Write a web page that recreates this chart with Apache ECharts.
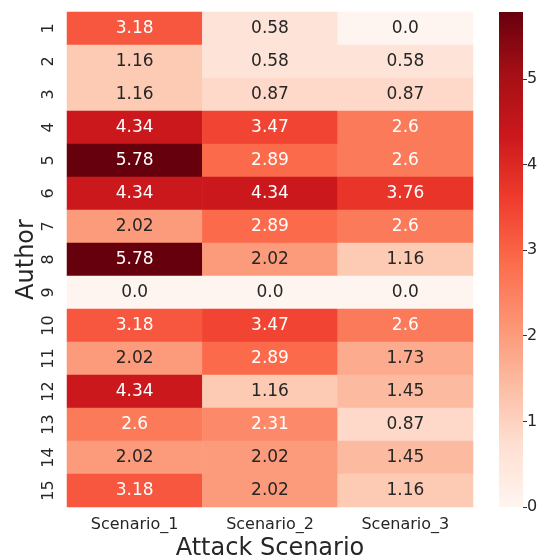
<!DOCTYPE html>
<html>
<head>
<meta charset="utf-8">
<script src="https://cdn.jsdelivr.net/npm/echarts@6/dist/echarts.min.js"></script>
<style>html,body{margin:0;padding:0;background:#fff}#c{width:544px;height:560px}</style>
</head>
<body>
<div id="c"></div>
<script>
const scenarios = ['Scenario_1', 'Scenario_2', 'Scenario_3'];
const authors = ['1','2','3','4','5','6','7','8','9','10','11','12','13','14','15'];
const scenario1 = [3.18, 1.16, 1.16, 4.34, 5.78, 4.34, 2.02, 5.78, 0.0, 3.18, 2.02, 4.34, 2.6, 2.02, 3.18];
const scenario2 = [0.58, 0.58, 0.87, 3.47, 2.89, 4.34, 2.89, 2.02, 0.0, 3.47, 2.89, 1.16, 2.31, 2.02, 2.02];
const scenario3 = [0.0, 0.58, 0.87, 2.6, 2.6, 3.76, 2.6, 1.16, 0.0, 2.6, 1.73, 1.45, 0.87, 1.45, 1.16];
const colorbarTicks = [0, 1, 2, 3, 4, 5];
const reds = ['#fff5f0','#fee0d2','#fcbba1','#fc9272','#fb6a4a','#ef3b2c','#cb181d','#a50f15','#67000d'];

const cols = [scenario1, scenario2, scenario3];
const vmax = Math.max(...cols.flat());
const font = 'DejaVu Sans';
const data = [];
cols.forEach((col, xi) => col.forEach((v, yi) => {
  data.push({ value: [xi, yi, v], label: { color: v > 2.2 ? '#ffffff' : '#262626' } });
}));
const fmt = v => Number.isInteger(v) ? v.toFixed(1) : String(v);

const chart = echarts.init(document.getElementById('c'));
chart.setOption({
  animation: false,
  textStyle: { fontFamily: font },
  grid: [
    { left: 67, top: 12, width: 406, height: 495, outerBoundsMode: 'none', containLabel: false },
    { left: 499, top: 12, width: 24, height: 495, outerBoundsMode: 'none', containLabel: false }
  ],
  xAxis: [
    { type: 'category', data: scenarios, gridIndex: 0,
      axisLine: { show: false }, axisTick: { show: false }, splitLine: { show: false },
      axisLabel: { fontSize: 16, color: '#262626', margin: 10, fontFamily: font },
      name: 'Attack Scenario', nameLocation: 'middle', nameGap: 30, nameMoveOverlap: false,
      nameTextStyle: { fontSize: 24, color: '#262626', fontFamily: font } },
    { type: 'category', data: ['cb'], gridIndex: 1, show: false }
  ],
  yAxis: [
    { type: 'category', data: authors, inverse: true, gridIndex: 0,
      axisLine: { show: false }, axisTick: { show: false }, splitLine: { show: false },
      axisLabel: { fontSize: 16, color: '#262626', rotate: 90, margin: 10, fontFamily: font },
      name: 'Author', nameLocation: 'middle', nameGap: 28, nameMoveOverlap: false,
      nameTextStyle: { fontSize: 24, color: '#262626', fontFamily: font } },
    { type: 'value', gridIndex: 1, min: 0, max: vmax, position: 'right',
      axisLine: { show: false }, splitLine: { show: false },
      axisTick: { show: true, length: 4, lineStyle: { color: '#333' }, customValues: colorbarTicks },
      axisLabel: { fontSize: 16, color: '#262626', margin: 4, fontFamily: font, customValues: colorbarTicks } }
  ],
  visualMap: { show: false, seriesIndex: 0, min: 0, max: vmax, inRange: { color: reds } },
  series: [
    { type: 'heatmap', xAxisIndex: 0, yAxisIndex: 0, data: data,
      label: { show: true, fontSize: 17, fontFamily: font, formatter: p => fmt(p.value[2]) },
      emphasis: { disabled: true } },
    { type: 'bar', xAxisIndex: 1, yAxisIndex: 1, data: [vmax], barWidth: '100%',
      itemStyle: { color: new echarts.graphic.LinearGradient(0, 1, 0, 0,
        reds.map((c, i) => ({ offset: i / (reds.length - 1), color: c }))) },
      silent: true }
  ]
});
</script>
</body>
</html>
